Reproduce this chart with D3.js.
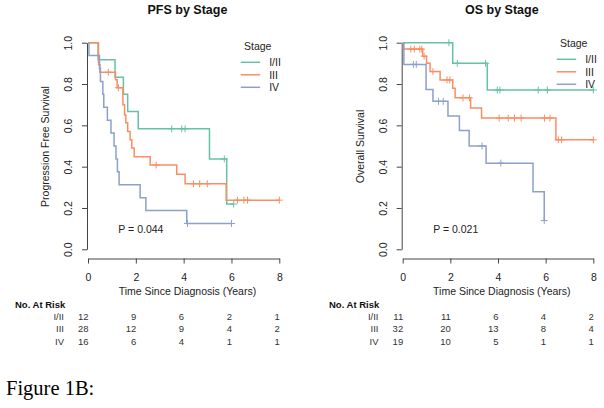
<!DOCTYPE html>
<html><head><meta charset="utf-8">
<script src="https://cdn.jsdelivr.net/npm/d3@7"></script>
<style>html,body{margin:0;padding:0;background:#fff;}svg{display:block;}</style>
</head><body>
<svg id="chart" width="604" height="408"></svg>
<script>
// ---------- DATA ----------
const stages = ["I/II", "III", "IV"];
const stageColors = ["#66C2A5", "#FC8D62", "#8DA0CB"];
const xTicks = [0, 2, 4, 6, 8];
const yTicks = [0, 0.2, 0.4, 0.6, 0.8, 1.0];

// PFS: event times, survival after each event, censor times
const pfsI_t = [0.42, 1.13, 1.48, 1.66, 2.10, 5.08, 5.80];
const pfsI_s = [0.917, 0.833, 0.750, 0.667, 0.583, 0.4375, 0.219];
const pfsI_c = [3.50, 3.92, 4.06, 5.70, 6.09];

const pfsIII_t = [0.44, 0.50, 1.15, 1.22, 1.46, 1.53, 1.58, 1.66, 1.76, 1.83, 1.93, 2.60, 3.71, 4.06, 5.78];
const pfsIII_s = [0.893, 0.857, 0.821, 0.782, 0.700, 0.650, 0.613, 0.570, 0.530, 0.490, 0.448, 0.408, 0.363, 0.317, 0.238];
const pfsIII_c = [0.85, 1.27, 2.85, 4.41, 4.67, 4.99, 6.25, 6.52, 6.67, 8.0];

const pfsIV_t = [0.04, 0.48, 0.52, 0.62, 0.66, 0.81, 0.96, 1.09, 1.17, 1.23, 1.30, 2.18, 2.42, 4.13];
const pfsIV_s = [0.9375, 0.875, 0.8125, 0.75, 0.6875, 0.625, 0.5625, 0.5, 0.4375, 0.375, 0.3125, 0.25, 0.1875, 0.125];
const pfsIV_c = [4.16, 6.0];

// OS
const osI_t = [2.10, 3.55];
const osI_s = [0.90, 0.771];
const osI_c = [1.94, 2.29, 3.48, 3.97, 4.08, 5.69, 6.07, 8.0];

const osIII_t = [0.03, 0.84, 1.00, 1.15, 1.57, 2.10, 2.20, 2.85, 3.31, 6.43];
const osIII_s = [0.969, 0.935, 0.900, 0.860, 0.820, 0.780, 0.733, 0.684, 0.635, 0.530];
const osIII_c = [0.34, 0.49, 0.72, 0.80, 0.90, 1.27, 1.86, 1.98, 2.53, 2.80, 4.05, 4.43, 4.69, 4.97, 5.95, 6.18, 6.53, 6.67, 8.0];

const osIV_t = [0.05, 0.98, 1.27, 1.90, 2.38, 2.79, 3.50, 5.47, 5.94];
const osIV_s = [0.895, 0.774, 0.716, 0.645, 0.575, 0.500, 0.417, 0.278, 0.139];
const osIV_c = [0.45, 0.57, 1.50, 1.70, 3.33, 4.12, 5.94];

// Numbers at risk (at times 0,2,4,6,8)
const pfsRiskI = [12, 9, 6, 2, 1];
const pfsRiskIII = [28, 12, 9, 4, 2];
const pfsRiskIV = [16, 6, 4, 1, 1];
const osRiskI = [11, 11, 6, 4, 2];
const osRiskIII = [32, 20, 13, 8, 4];
const osRiskIV = [19, 10, 5, 1, 1];

const pfsTitle = "PFS by Stage", osTitle = "OS by Stage";
const pfsYLabel = "Progression Free Survival", osYLabel = "Overall Survival";
const xLabel = "Time Since Diagnosis (Years)";
const pfsP = "P = 0.044", osP = "P = 0.021";

// ---------- DRAW ----------
const svg = d3.select("#chart");
const FONT = "'Liberation Sans', Arial, Helvetica, sans-serif";
const TXT = "#222";
const AX = "#444";

function drawPanel(cfg) {
  const x = d3.scaleLinear().domain([0, 8]).range([cfg.x0, cfg.x1]);
  const y = d3.scaleLinear().domain([0, 1]).range([249.3, 42.7]);
  const g = svg.append("g");
  const cx = (cfg.x0 + cfg.x1) / 2 + 3.8;

  // title
  g.append("text").attr("x", cx).attr("y", 13.8).attr("text-anchor", "middle")
    .attr("font-family", FONT).attr("font-weight", "bold").attr("font-size", 12.5)
    .attr("fill", "#111").text(cfg.title);

  // x axis
  const gx = g.append("g").attr("transform", "translate(0,258.5)")
    .call(d3.axisBottom(x).tickValues(xTicks).tickSize(5).tickSizeOuter(0)
      .tickPadding(10.5).tickFormat(d3.format("d")));
  gx.attr("font-family", FONT).attr("font-size", 10.5);
  gx.selectAll("path,line").attr("stroke", AX);
  gx.selectAll("text").attr("fill", TXT);

  // y axis
  const gy = g.append("g").attr("transform", `translate(${cfg.x0 - 1},0)`)
    .call(d3.axisLeft(y).tickValues(yTicks).tickSize(5).tickSizeOuter(0)
      .tickFormat(d3.format(".1f")));
  gy.attr("font-family", FONT).attr("font-size", 10.5);
  gy.selectAll("path,line").attr("stroke", AX);
  gy.selectAll("text").attr("x", null).attr("dy", null).attr("fill", TXT)
    .attr("text-anchor", "middle").attr("transform", "translate(-14.8,0) rotate(-90)");

  // axis titles
  g.append("text").attr("x", cx).attr("y", 294.5).attr("text-anchor", "middle")
    .attr("font-family", FONT).attr("font-size", 10.5).attr("fill", TXT).text(xLabel);
  g.append("text").attr("transform", `translate(${cfg.x0 - 39},146.5) rotate(-90)`)
    .attr("text-anchor", "middle").attr("font-family", FONT).attr("font-size", 10.5)
    .attr("fill", TXT).text(cfg.yLabel);

  // curves
  const line = d3.line().x(d => x(d[0])).y(d => y(d[1])).curve(d3.curveStepAfter);
  cfg.series.forEach((s, i) => {
    const col = stageColors[i];
    const pts = [[0, 1]].concat(s.t.map((t, k) => [t, s.s[k]]));
    const end = Math.max(d3.max(s.t), d3.max(s.c));
    pts.push([end, s.s[s.s.length - 1]]);
    g.append("path").attr("d", line(pts)).attr("fill", "none")
      .attr("stroke", col).attr("stroke-width", 1.5);
    const level = c => { let v = 1; s.t.forEach((t, k) => { if (t <= c) v = s.s[k]; }); return v; };
    s.c.forEach(c => {
      const px = x(c), py = y(level(c));
      g.append("path").attr("d", `M${px},${py - 3.5}V${py + 3.5}M${px - 3.5},${py}H${px + 3.5}`)
        .attr("stroke", col).attr("stroke-width", 1).attr("fill", "none");
    });
  });

  // p-value
  g.append("text").attr("x", x(cfg.pAt)).attr("y", 232.5).attr("font-family", FONT)
    .attr("font-size", 10.5).attr("fill", TXT).text(cfg.p);

  // legend
  const L = cfg.legend;
  g.append("text").attr("x", L.x + 17).attr("y", L.y0 - 12).attr("text-anchor", "middle")
    .attr("font-family", FONT).attr("font-size", 10.5).attr("fill", TXT).text("Stage");
  stages.forEach((st, i) => {
    const yy = L.y0 + i * 12.5;
    g.append("line").attr("x1", L.x).attr("x2", L.x + 19.5).attr("y1", yy).attr("y2", yy)
      .attr("stroke", stageColors[i]).attr("stroke-width", 1.5);
    g.append("text").attr("x", L.x + 28.5).attr("y", yy + 3.8).attr("font-family", FONT)
      .attr("font-size", 10.5).attr("fill", TXT).text(st);
  });

  // at-risk table
  g.append("text").attr("x", cfg.tableX).attr("y", 307.8).attr("font-family", FONT)
    .attr("font-weight", "bold").attr("font-size", 9.5).attr("fill", "#111").text("No. At Risk");
  cfg.risk.forEach((row, i) => {
    const yy = 319.5 + i * 12.8;
    g.append("text").attr("x", cfg.tableLabelX).attr("y", yy).attr("text-anchor", "end")
      .attr("font-family", FONT).attr("font-size", 9.5).attr("fill", "#333").text(stages[i]);
    row.forEach((n, k) => {
      g.append("text").attr("x", x(xTicks[k]) + 0.5).attr("y", yy).attr("text-anchor", "end")
        .attr("font-family", FONT).attr("font-size", 9.5).attr("fill", "#333").text(n);
    });
  });
}

drawPanel({
  x0: 88, x1: 279.3, title: pfsTitle, yLabel: pfsYLabel, p: pfsP, pAt: 1.27,
  legend: { x: 240.7, y0: 62.3 }, tableX: 15, tableLabelX: 64,
  series: [
    { t: pfsI_t, s: pfsI_s, c: pfsI_c },
    { t: pfsIII_t, s: pfsIII_s, c: pfsIII_c },
    { t: pfsIV_t, s: pfsIV_s, c: pfsIV_c }
  ],
  risk: [pfsRiskI, pfsRiskIII, pfsRiskIV]
});
drawPanel({
  x0: 402.7, x1: 593.3, title: osTitle, yLabel: osYLabel, p: osP, pAt: 1.28,
  legend: { x: 556.7, y0: 59.3 }, tableX: 329, tableLabelX: 378.5,
  series: [
    { t: osI_t, s: osI_s, c: osI_c },
    { t: osIII_t, s: osIII_s, c: osIII_c },
    { t: osIV_t, s: osIV_s, c: osIV_c }
  ],
  risk: [osRiskI, osRiskIII, osRiskIV]
});

svg.append("text").attr("x", 6).attr("y", 394.5)
  .attr("font-family", "'Liberation Serif', 'Times New Roman', serif")
  .attr("font-size", 20.5).attr("fill", "#000").text("Figure 1B:");
</script>
</body></html>
